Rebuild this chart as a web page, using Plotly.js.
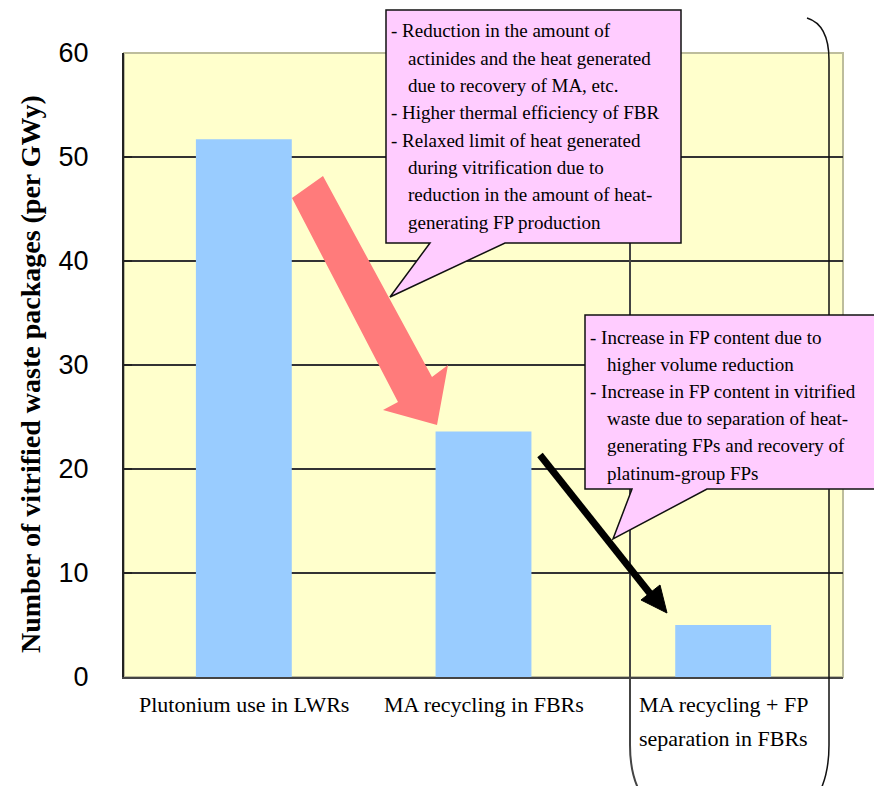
<!DOCTYPE html>
<html>
<head>
<meta charset="utf-8">
<script src="https://cdn.plot.ly/plotly-3.0.1.min.js"></script>
<style>
  html, body { margin: 0; padding: 0; background: #fff; }
  #chart { width: 874px; height: 786px; }
</style>
</head>
<body>
<div id="chart"></div>
<script>
// Category labels, split into the lines they are printed on
const categoryLines = [
  ['Plutonium use in LWRs'],
  ['MA recycling in FBRs'],
  ['MA recycling + FP', 'separation in FBRs']
];
const categories = categoryLines.map(l => l.join(' '));

// Vitrified waste packages per GWy
const packages = [51.7, 23.6, 5.0];

const yTicks = [0, 10, 20, 30, 40, 50, 60];
const yTitle = 'Number of vitrified waste packages (per GWy)';

// Callout texts
const fbrNotes = [
  '- Reduction in the amount of',
  'actinides and the heat generated',
  'due to recovery of MA, etc.',
  '- Higher thermal efficiency of FBR',
  '- Relaxed limit of heat generated',
  'during vitrification due to',
  'reduction in the amount of heat-',
  'generating FP production'
];
const fpNotes = [
  '- Increase in FP content due to',
  'higher volume reduction',
  '- Increase in FP content in vitrified',
  'waste due to separation of heat-',
  'generating FPs and recovery of',
  'platinum-group FPs'
];

// ---- page geometry ----
const W = 874, H = 786;
const M = { l: 124, r: 31, t: 53, b: 109 };
const PW = W - M.l - M.r, PH = H - M.t - M.b;
const fx = px => (px - M.l) / PW;
const fy = py => (H - M.b - py) / PH;

// build an SVG path in paper units from pixel points
function path(segs, close) {
  const s = segs.map(seg => {
    const cmd = seg[0];
    const pts = [];
    for (let i = 1; i < seg.length; i += 2) {
      pts.push(fx(seg[i]).toFixed(5) + ',' + fy(seg[i + 1]).toFixed(5));
    }
    return cmd + ' ' + pts.join(' ');
  }).join(' ');
  return close ? s + ' Z' : s;
}

const serif = '"Liberation Serif", "Times New Roman", Times, serif';
const sans = '"Liberation Sans", Arial, sans-serif';
const calloutFill = '#ffccff';

const shapes = [
  // light frame around the plotting area
  { type: 'rect', xref: 'paper', yref: 'paper', x0: 0, x1: 1, y0: 0, y1: 1,
    line: { color: '#bdbd9c', width: 2 }, layer: 'below' },
  // rounded bracket around the third scenario: left and right sides
  { type: 'path', xref: 'paper', yref: 'paper', layer: 'above',
    path: path([
      ['M', 630, 120], ['L', 630, 745],
      ['C', 630, 770, 636, 788, 645, 800]
    ]),
    line: { color: '#444', width: 2 } },
  { type: 'path', xref: 'paper', yref: 'paper', layer: 'above',
    path: path([
      ['M', 807, 18], ['C', 820, 22, 829, 35, 829, 60], ['L', 829, 745],
      ['C', 829, 770, 823, 788, 815, 800]
    ]),
    line: { color: '#111', width: 1.5 } },
  // callout: FBR effects
  { type: 'path', xref: 'paper', yref: 'paper', layer: 'above',
    path: path([
      ['M', 386, 10], ['L', 681, 10], ['L', 681, 243], ['L', 505, 243],
      ['L', 390, 297], ['L', 430, 243], ['L', 386, 243]
    ], true),
    fillcolor: calloutFill, line: { color: '#111', width: 1.5 } },
  // callout: FP separation effects
  { type: 'path', xref: 'paper', yref: 'paper', layer: 'above',
    path: path([
      ['M', 585, 315], ['L', 876, 315], ['L', 876, 489], ['L', 707, 489],
      ['L', 613, 539], ['L', 632, 489], ['L', 585, 489]
    ], true),
    fillcolor: calloutFill, line: { color: '#111', width: 1.5 } },
  // red block arrow from LWR to FBR
  { type: 'path', xref: 'paper', yref: 'paper', layer: 'above',
    path: path([
      ['M', 292, 198], ['L', 323, 176], ['L', 432, 377], ['L', 448, 365],
      ['L', 437, 425], ['L', 383, 410], ['L', 398, 402]
    ], true),
    fillcolor: '#ff7b7b', line: { width: 0 } },
  // black arrow from FBR to FBR + FP separation
  { type: 'path', xref: 'paper', yref: 'paper', layer: 'above',
    path: path([['M', 540, 455], ['L', 652, 596]]),
    line: { color: '#000', width: 7 } },
  { type: 'path', xref: 'paper', yref: 'paper', layer: 'above',
    path: path([['M', 667, 613], ['L', 641, 600], ['L', 660, 585]], true),
    fillcolor: '#000', line: { color: '#000', width: 1 } }
];

const annotations = [];

// y-axis title
annotations.push({
  xref: 'paper', yref: 'paper', x: fx(31), y: fy(374),
  text: '<b>' + yTitle + '</b>', textangle: -90, showarrow: false,
  xanchor: 'center', yanchor: 'middle',
  font: { family: serif, size: 28, color: '#000' }
});

// category labels under the bars
categoryLines.forEach((lines, i) => {
  lines.forEach((txt, j) => {
    annotations.push({
      xref: 'x', yref: 'paper', x: categories[i], y: fy(704 + j * 34),
      text: txt, showarrow: false, xanchor: 'center', yanchor: 'middle',
      font: { family: serif, size: 22, color: '#000' }
    });
  });
});

// callout text lines
function addNotes(lines, left, top, step) {
  lines.forEach((txt, i) => {
    const bullet = txt.startsWith('- ');
    annotations.push({
      xref: 'paper', yref: 'paper',
      x: fx(bullet ? left : left + 17), y: fy(top + i * step),
      text: txt, showarrow: false, xanchor: 'left', yanchor: 'middle',
      font: { family: serif, size: 19, color: '#000' }
    });
  });
}
addNotes(fbrNotes, 389, 31, 27.3);
addNotes(fpNotes, 588, 337, 27.2);

const trace = {
  type: 'bar',
  x: categories,
  y: packages,
  marker: { color: '#99ccff', line: { width: 0 } },
  hoverinfo: 'x+y'
};

const layout = {
  width: W, height: H,
  margin: M,
  font: { family: serif, color: '#000' },
  paper_bgcolor: '#ffffff',
  plot_bgcolor: '#ffffcc',
  showlegend: false,
  bargap: 0.6,
  xaxis: {
    type: 'category',
    showticklabels: false,
    ticks: '',
    showgrid: false,
    zeroline: false,
    showline: true, linecolor: '#444', linewidth: 2
  },
  yaxis: {
    range: [0, 60],
    tickvals: yTicks,
    ticks: 'inside', ticklen: 8, tickwidth: 2, tickcolor: '#222',
    ticklabelstandoff: 28,
    tickfont: { family: sans, size: 27, color: '#000' },
    showgrid: true, gridcolor: '#333', gridwidth: 1.5,
    zeroline: false,
    showline: true, linecolor: '#222', linewidth: 2
  },
  shapes: shapes,
  annotations: annotations
};

Plotly.newPlot('chart', [trace], layout, { displayModeBar: false, staticPlot: true });
</script>
</body>
</html>
